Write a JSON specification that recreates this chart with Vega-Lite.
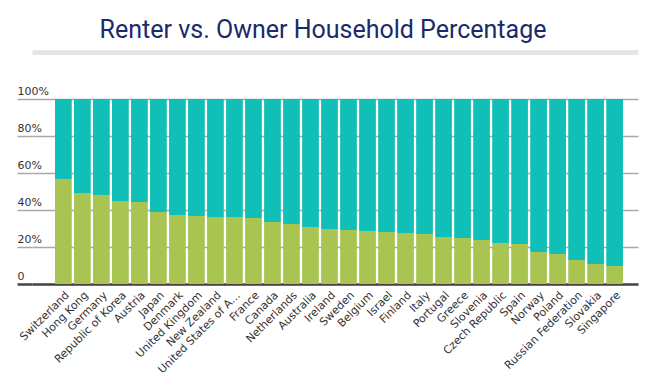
{
  "$schema": "https://vega.github.io/schema/vega-lite/v6.json",
  "autosize": "none",
  "padding": {"left": 32, "top": 99, "right": 8, "bottom": 107},
  "width": 606,
  "height": 185,
  "background": "white",
  "title": {
    "text": "Renter vs. Owner Household Percentage",
    "font": "Roboto",
    "fontSize": 25,
    "fontWeight": "normal",
    "color": "#1b2a6b",
    "anchor": "middle",
    "frame": "group",
    "dx": -12,
    "offset": 9
  },
  "data": {
    "values": [
      {"country": "Switzerland", "renter": 56.8},
      {"country": "Hong Kong", "renter": 49.2},
      {"country": "Germany", "renter": 48.1},
      {"country": "Republic of Korea", "renter": 44.9},
      {"country": "Austria", "renter": 44.3},
      {"country": "Japan", "renter": 38.9},
      {"country": "Denmark", "renter": 37.3},
      {"country": "United Kingdom", "renter": 36.8},
      {"country": "New Zealand", "renter": 36.2},
      {"country": "United States of America", "renter": 36.2},
      {"country": "France", "renter": 35.7},
      {"country": "Canada", "renter": 33.5},
      {"country": "Netherlands", "renter": 32.4},
      {"country": "Australia", "renter": 30.8},
      {"country": "Ireland", "renter": 29.7},
      {"country": "Sweden", "renter": 29.2},
      {"country": "Belgium", "renter": 28.6},
      {"country": "Israel", "renter": 28.1},
      {"country": "Finland", "renter": 27.6},
      {"country": "Italy", "renter": 27.0},
      {"country": "Portugal", "renter": 25.4},
      {"country": "Greece", "renter": 24.9},
      {"country": "Slovenia", "renter": 23.8},
      {"country": "Czech Republic", "renter": 22.2},
      {"country": "Spain", "renter": 21.6},
      {"country": "Norway", "renter": 17.3},
      {"country": "Poland", "renter": 16.2},
      {"country": "Russian Federation", "renter": 13.0},
      {"country": "Slovakia", "renter": 10.8},
      {"country": "Singapore", "renter": 9.7}
    ]
  },
  "transform": [
    {"calculate": "100 - datum.renter", "as": "owner"},
    {"fold": ["renter", "owner"], "as": ["type", "pct"]}
  ],
  "layer": [
    {
      "mark": {"type": "bar"},
      "encoding": {
        "x": {
          "field": "country",
          "type": "nominal",
          "sort": null,
          "scale": {"paddingInner": 0.12, "paddingOuter": 1, "align": 0.605},
          "axis": {
            "title": null,
            "domainColor": "#444444",
            "domainWidth": 2.5,
            "ticks": false,
            "labelAngle": -45,
            "labelFont": "DejaVu Sans",
            "labelFontSize": 11,
            "labelColor": "#333333",
            "labelPadding": 5,
            "labelLimit": 112
          }
        },
        "y": {
          "field": "pct",
          "type": "quantitative",
          "stack": "zero",
          "scale": {"domain": [0, 100], "nice": false},
          "axis": {
            "title": null,
            "values": [0, 20, 40, 60, 80, 100],
            "labelExpr": "datum.value === 0 ? '0' : datum.value + '%'",
            "labelOverlap": false,
            "domain": false,
            "ticks": true,
            "tickSize": 15,
            "tickColor": {"condition": {"test": "datum.value === 0", "value": "#444444"}, "value": "#a8a8a8"},
            "tickWidth": {"condition": {"test": "datum.value === 0", "value": 2.5}, "value": 1.5},
            "grid": true,
            "gridColor": "#a8a8a8",
            "gridWidth": 1.5,
            "labelAlign": "left",
            "labelBaseline": "bottom",
            "labelPadding": 0,
            "labelOffset": -3,
            "labelFont": "DejaVu Sans",
            "labelFontSize": 11,
            "labelColor": "#333333"
          }
        },
        "color": {
          "field": "type",
          "type": "nominal",
          "scale": {"domain": ["renter", "owner"], "range": ["#a9c451", "#10bfb7"]},
          "legend": null
        },
        "order": {"field": "type", "sort": "descending"}
      }
    },
    {
      "mark": {"type": "bar", "opacity": 0},
      "encoding": {
        "x": {
          "field": "country",
          "type": "nominal",
          "sort": null,
          "scale": {"paddingInner": 0.12, "paddingOuter": 1, "align": 0.605},
          "axis": {
            "orient": "top",
            "offset": 47,
            "title": null,
            "labels": false,
            "ticks": false,
            "grid": false,
            "domainColor": "#e6e6e6",
            "domainWidth": 5
          }
        },
        "y": {"field": "pct", "type": "quantitative", "stack": "zero", "axis": null}
      }
    }
  ],
  "resolve": {"axis": {"x": "independent", "y": "independent"}},
  "config": {"view": {"stroke": null}}
}
